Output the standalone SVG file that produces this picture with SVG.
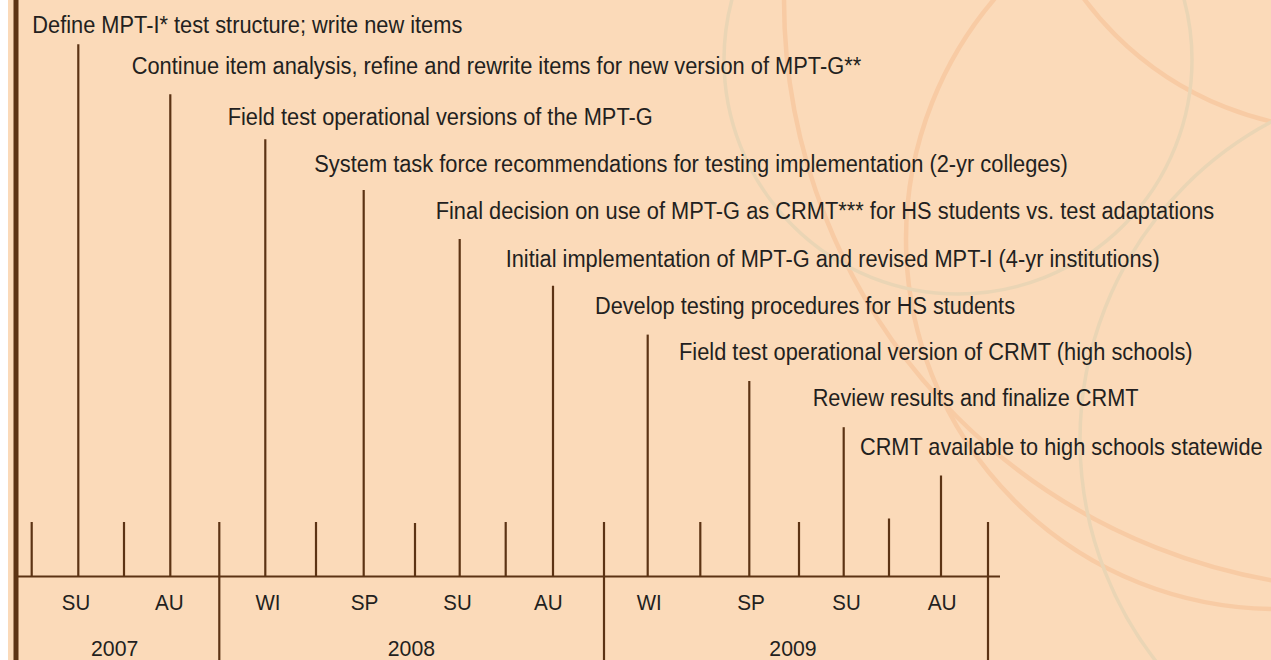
<svg xmlns="http://www.w3.org/2000/svg" width="1271" height="660" viewBox="0 0 1271 660">
  <style>
    .lbl { font-family: "Liberation Sans", Arial, sans-serif; font-size: 23px; fill: #231F20; }
    .ax { font-family: "Liberation Sans", Arial, sans-serif; font-size: 22.5px; fill: #231F20; text-anchor: middle; }
    .yr { font-family: "Liberation Sans", Arial, sans-serif; font-size: 22.5px; fill: #231F20; text-anchor: middle; }
    .ln { stroke: #5C3314; stroke-width: 2.2; fill: none; }
    .arcO { fill: none; stroke: #F8CBA4; stroke-width: 4.5; }
    .arcB { fill: none; stroke: #EAD5B5; stroke-width: 3.5; }
  </style>
  <defs>
    <clipPath id="bgclip"><rect x="8" y="0" width="1263" height="660"/></clipPath>
  </defs>
  <rect x="0" y="0" width="1271" height="660" fill="#FFFFFF"/>
  <rect x="8" y="0" width="1263" height="660" fill="#FBDAB9"/>

  <g id="background-arcs" clip-path="url(#bgclip)">
    <circle class="arcO" cx="1373" cy="0" r="589"/>
    <circle class="arcO" cx="1276" cy="239" r="370"/>
    <circle class="arcO" cx="1345" cy="-195" r="325"/>
    <circle class="arcB" cx="958" cy="60" r="234"/>
    <circle class="arcB" cx="1440" cy="440" r="360"/>
  </g>

  <rect id="left-border" x="13.5" y="0" width="5" height="660" fill="#5C3314"/>

  <g id="axis">
    <line class="ln" x1="18" y1="576.5" x2="1000" y2="576.5" stroke-width="2.8"/>
    <line class="ln" x1="31.7" y1="522" x2="31.7" y2="577"/>
    <line class="ln" x1="124" y1="522" x2="124" y2="577"/>
    <line class="ln" x1="316" y1="522" x2="316" y2="577"/>
    <line class="ln" x1="415" y1="523" x2="415" y2="577"/>
    <line class="ln" x1="505.7" y1="522" x2="505.7" y2="577"/>
    <line class="ln" x1="700.3" y1="522" x2="700.3" y2="577"/>
    <line class="ln" x1="799" y1="522" x2="799" y2="577"/>
    <line class="ln" x1="889" y1="518.5" x2="889" y2="577"/>
    <line class="ln" x1="219.3" y1="522" x2="219.3" y2="660"/>
    <line class="ln" x1="604" y1="522" x2="604" y2="660"/>
    <line class="ln" x1="988" y1="522" x2="988" y2="660"/>
    <text class="ax" x="76" y="609.5" textLength="28.3" lengthAdjust="spacingAndGlyphs">SU</text>
    <text class="ax" x="169.3" y="609.5" textLength="28.7" lengthAdjust="spacingAndGlyphs">AU</text>
    <text class="ax" x="268" y="609.5" textLength="25" lengthAdjust="spacingAndGlyphs">WI</text>
    <text class="ax" x="364.5" y="609.5" textLength="27.7" lengthAdjust="spacingAndGlyphs">SP</text>
    <text class="ax" x="457.5" y="609.5" textLength="28.4" lengthAdjust="spacingAndGlyphs">SU</text>
    <text class="ax" x="548.3" y="609.5" textLength="28.7" lengthAdjust="spacingAndGlyphs">AU</text>
    <text class="ax" x="649.2" y="609.5" textLength="25" lengthAdjust="spacingAndGlyphs">WI</text>
    <text class="ax" x="751" y="609.5" textLength="27.7" lengthAdjust="spacingAndGlyphs">SP</text>
    <text class="ax" x="846.5" y="609.5" textLength="28.4" lengthAdjust="spacingAndGlyphs">SU</text>
    <text class="ax" x="942.2" y="609.5" textLength="29" lengthAdjust="spacingAndGlyphs">AU</text>
    <text class="yr" x="114.7" y="655.5" textLength="47.3" lengthAdjust="spacingAndGlyphs">2007</text>
    <text class="yr" x="411.4" y="655.5" textLength="47.3" lengthAdjust="spacingAndGlyphs">2008</text>
    <text class="yr" x="793" y="655.5" textLength="47.3" lengthAdjust="spacingAndGlyphs">2009</text>
  </g>

  <g id="m1">
    <line class="ln" x1="78.3" y1="44.3" x2="78.3" y2="576"/>
    <text class="lbl" x="32.3" y="33.3" textLength="430" lengthAdjust="spacingAndGlyphs">Define MPT-I* test structure; write new items</text>
  </g>
  <g id="m2">
    <line class="ln" x1="170.3" y1="94.3" x2="170.3" y2="576"/>
    <text class="lbl" x="131.7" y="73.8" textLength="729.5" lengthAdjust="spacingAndGlyphs">Continue item analysis, refine and rewrite items for new version of MPT-G**</text>
  </g>
  <g id="m3">
    <line class="ln" x1="265.3" y1="139.3" x2="265.3" y2="576"/>
    <text class="lbl" x="227.7" y="124.5" textLength="425" lengthAdjust="spacingAndGlyphs">Field test operational versions of the MPT-G</text>
  </g>
  <g id="m4">
    <line class="ln" x1="363.7" y1="190" x2="363.7" y2="576"/>
    <text class="lbl" x="314.3" y="171.5" textLength="753.4" lengthAdjust="spacingAndGlyphs">System task force recommendations for testing implementation (2-yr colleges)</text>
  </g>
  <g id="m5">
    <line class="ln" x1="459.7" y1="239" x2="459.7" y2="576"/>
    <text class="lbl" x="435.7" y="218.5" textLength="778.6" lengthAdjust="spacingAndGlyphs">Final decision on use of MPT-G as CRMT*** for HS students vs. test adaptations</text>
  </g>
  <g id="m6">
    <line class="ln" x1="553" y1="285.7" x2="553" y2="576"/>
    <text class="lbl" x="505.7" y="267" textLength="654" lengthAdjust="spacingAndGlyphs">Initial implementation of MPT-G and revised MPT-I (4-yr institutions)</text>
  </g>
  <g id="m7">
    <line class="ln" x1="647.7" y1="334.6" x2="647.7" y2="576"/>
    <text class="lbl" x="595" y="313.5" textLength="420" lengthAdjust="spacingAndGlyphs">Develop testing procedures for HS students</text>
  </g>
  <g id="m8">
    <line class="ln" x1="749.3" y1="381" x2="749.3" y2="576"/>
    <text class="lbl" x="679" y="360" textLength="513.6" lengthAdjust="spacingAndGlyphs">Field test operational version of CRMT (high schools)</text>
  </g>
  <g id="m9">
    <line class="ln" x1="843.7" y1="427.2" x2="843.7" y2="576"/>
    <text class="lbl" x="812.7" y="406" textLength="325.8" lengthAdjust="spacingAndGlyphs">Review results and finalize CRMT</text>
  </g>
  <g id="m10">
    <line class="ln" x1="941" y1="475.5" x2="941" y2="576"/>
    <text class="lbl" transform="translate(860 455.4) scale(0.944 1)" x="0" y="0">CRMT available to high schools statewide</text>
  </g>
</svg>
